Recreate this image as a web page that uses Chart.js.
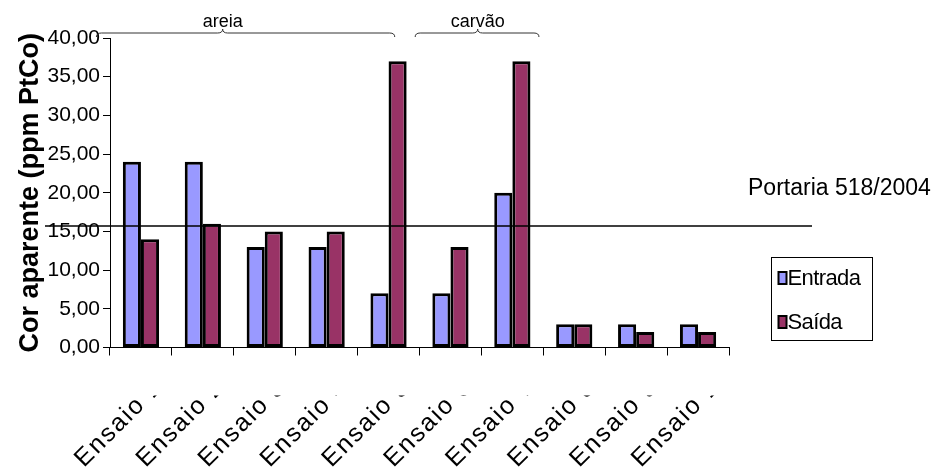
<!DOCTYPE html>
<html>
<head>
<meta charset="utf-8">
<script src="https://cdn.jsdelivr.net/npm/chart.js@4.4.1/dist/chart.umd.min.js"></script>
<style>
  html, body { margin: 0; padding: 0; background: #ffffff; }
  #wrap { width: 939px; height: 476px; }
</style>
</head>
<body>
<div id="wrap"><canvas id="chart" width="939" height="476"></canvas></div>
<script>
// Trials and measured apparent colour (ppm PtCo)
const categories = ['Ensaio 1', 'Ensaio 2', 'Ensaio 3', 'Ensaio 4', 'Ensaio 5',
                    'Ensaio 6', 'Ensaio 7', 'Ensaio 8', 'Ensaio 9', 'Ensaio 10'];
const entrada = [24, 24, 13, 13, 7, 7, 20, 3, 3, 3];
const saida   = [14, 16, 15, 15, 37, 13, 37, 3, 2, 2];
const yTickLabels = ['0,00', '5,00', '10,00', '15,00', '20,00', '25,00', '30,00', '35,00', '40,00'];

// Reference limit line
const portariaValue = 15.7;
const portariaLabel = 'Portaria 518/2004';

// Filter-medium groups above the bars
const groupLabels = ['areia', 'carvão'];

// Brace geometry in category units: [start, end, tip]
const braceSpans = [[-0.72, 4.10, 1.32], [4.43, 6.43, 5.44]];

const FONT = '"Liberation Sans", Arial, sans-serif';

function catToPx(xs, v) {
  const w = xs.getPixelForValue(1) - xs.getPixelForValue(0);
  return xs.getPixelForValue(0) + v * w;
}

function drawBrace(ctx, x1, x2, tip, y) {
  const r = 5, h = 4;
  ctx.beginPath();
  ctx.moveTo(x1, y + h);
  ctx.quadraticCurveTo(x1, y, x1 + r, y);
  ctx.lineTo(tip - r, y);
  ctx.quadraticCurveTo(tip, y, tip, y - h);
  ctx.quadraticCurveTo(tip, y, tip + r, y);
  ctx.lineTo(x2 - r, y);
  ctx.quadraticCurveTo(x2, y, x2, y + h);
  ctx.stroke();
}

const decorations = {
  id: 'decorations',
  afterDatasetsDraw(chart) {
    const { ctx, chartArea, scales: { x: xs, y: ys } } = chart;
    ctx.save();

    // limit line
    const ly = ys.getPixelForValue(portariaValue);
    ctx.strokeStyle = '#000';
    ctx.lineWidth = 1.4;
    ctx.beginPath();
    ctx.moveTo(chartArea.left - 65, ly);
    ctx.lineTo(chartArea.right + 83, ly);
    ctx.stroke();

    ctx.fillStyle = '#000';
    ctx.font = '23px ' + FONT;
    ctx.textAlign = 'left';
    ctx.textBaseline = 'middle';
    ctx.fillText(portariaLabel, chartArea.right + 19, ly - 37);

    // group braces and labels
    const by = chartArea.top - 5;
    ctx.lineWidth = 1;
    ctx.strokeStyle = '#333';
    ctx.font = '18px ' + FONT;
    ctx.textAlign = 'center';
    ctx.textBaseline = 'alphabetic';
    braceSpans.forEach((s, i) => {
      const x1 = catToPx(xs, s[0]), x2 = catToPx(xs, s[1]), tip = catToPx(xs, s[2]);
      drawBrace(ctx, x1, x2, tip, by);
      ctx.fillText(groupLabels[i], tip, by - 6);
    });

    // rotated category labels, cut off along a horizontal band below the axis
    ctx.save();
    ctx.beginPath();
    ctx.rect(0, chartArea.bottom + 48, chart.width, chart.height);
    ctx.clip();
    ctx.font = '25px ' + FONT;
    if ('letterSpacing' in ctx) ctx.letterSpacing = '2px';
    ctx.textAlign = 'left';
    ctx.textBaseline = 'alphabetic';
    categories.forEach((lab, i) => {
      const cx = xs.getPixelForTick(i);
      ctx.save();
      ctx.translate(cx - 57, chartArea.bottom + 120.5);
      ctx.rotate(-Math.PI / 4);
      ctx.fillText(lab, 0, 0);
      ctx.restore();
    });
    ctx.restore();

    // legend
    const lx = chartArea.right + 42.5, ltop = 257.5;
    ctx.lineWidth = 1;
    ctx.strokeStyle = '#000';
    ctx.strokeRect(lx, ltop, 101, 83);
    ctx.font = '22px ' + FONT;
    if ('letterSpacing' in ctx) ctx.letterSpacing = '-0.6px';
    ctx.textAlign = 'left';
    ctx.textBaseline = 'middle';
    chart.data.datasets.forEach((ds, i) => {
      const cy = ltop + 20.5 + i * 44;
      ctx.fillStyle = ds.backgroundColor;
      ctx.fillRect(lx + 7, cy - 6, 8, 12);
      ctx.lineWidth = 2;
      ctx.strokeRect(lx + 7, cy - 6, 8, 12);
      ctx.fillStyle = '#000';
      ctx.fillText(ds.label, lx + 16, cy + 1);
    });

    ctx.restore();
  }
};

new Chart(document.getElementById('chart').getContext('2d'), {
  type: 'bar',
  data: {
    labels: categories,
    datasets: [
      { label: 'Entrada', data: entrada, backgroundColor: '#9999FF',
        borderColor: '#000', borderWidth: 3, borderSkipped: false },
      { label: 'Saída', data: saida, backgroundColor: '#993366',
        borderColor: '#000', borderWidth: 3, borderSkipped: false }
    ]
  },
  options: {
    responsive: false,
    animation: false,
    devicePixelRatio: 1,
    categoryPercentage: 0.585,
    barPercentage: 1.0,
    layout: { padding: { left: 0, right: 210, top: 38, bottom: 120.5 } },
    plugins: { legend: { display: false }, tooltip: { enabled: false } },
    scales: {
      x: {
        grid: { display: true, drawOnChartArea: false, drawTicks: true, tickLength: 8,
                color: '#000', offset: true },
        border: { display: true, color: '#000', width: 1 },
        ticks: { display: false },
        afterFit(scale) { scale.height = 8; }
      },
      y: {
        min: 0, max: 40,
        ticks: {
          stepSize: 5, color: '#000', padding: 3,
          font: { family: FONT, size: 21 },
          callback: (v, i) => yTickLabels[i]
        },
        grid: { drawOnChartArea: false, drawTicks: true, tickLength: 7, color: '#000' },
        border: { display: true, color: '#000', width: 1 },
        title: {
          display: true, text: 'Cor aparente (ppm PtCo)', color: '#000',
          font: { family: FONT, size: 27, weight: 'bold' },
          padding: { top: 14, bottom: 0 }
        },
        afterFit(scale) { scale.width = 110; }
      }
    }
  },
  plugins: [decorations]
});
</script>
</body>
</html>
